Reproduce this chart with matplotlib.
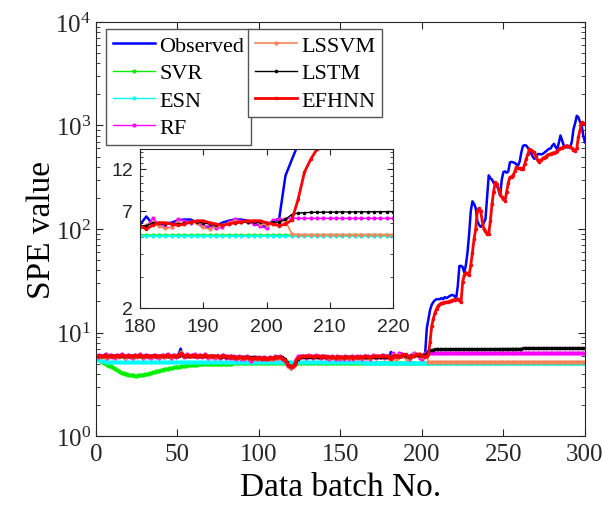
import matplotlib.pyplot as plt
import matplotlib.ticker as ticker
import numpy as np

plt.rcParams['font.family'] = ['Liberation Serif', 'DejaVu Serif']
plt.rcParams['mathtext.fontset'] = 'custom'
plt.rcParams['mathtext.rm'] = 'Liberation Serif'
plt.rcParams['axes.edgecolor'] = '#262626'
plt.rcParams['xtick.color'] = '#262626'
plt.rcParams['ytick.color'] = '#262626'

# data batch numbers
batch = np.arange(1, 301)

observed = [
    5.9, 6.1, 5.8, 6.0, 5.9, 6.2, 5.8, 5.9, 6.1, 5.9,
    6.0, 5.8, 6.1, 5.9, 6.0, 6.2, 5.9, 5.8, 6.0, 6.1,
    5.9, 6.0, 5.8, 6.1, 5.9, 6.0, 6.2, 5.9, 5.8, 6.0,
    6.1, 5.9, 6.0, 5.8, 6.0, 6.1, 5.9, 6.0, 5.8, 6.0,
    6.1, 5.9, 6.0, 6.2, 5.9, 5.8, 6.0, 6.1, 5.9, 6.0,
    6.3, 7.0, 6.1, 5.9, 6.0, 6.2, 6.0, 5.9, 6.1, 6.0,
    6.2, 5.9, 6.0, 6.1, 5.9, 6.0, 6.2, 5.9, 5.8, 6.0,
    5.9, 6.0, 5.8, 5.9, 6.0, 5.8, 5.9, 6.1, 5.9, 5.8,
    5.9, 5.8, 6.0, 5.8, 5.9, 5.7, 5.8, 5.9, 5.7, 5.8,
    5.7, 5.8, 5.9, 5.7, 5.8, 5.6, 5.8, 5.7, 5.6, 5.8,
    5.7, 5.6, 5.8, 5.7, 5.6, 5.7, 5.8, 5.6, 5.7, 5.9,
    5.8, 5.7, 5.9, 5.7, 5.6, 5.3, 5.0, 4.7, 4.5, 4.4,
    4.6, 5.0, 5.5, 5.8, 5.9, 5.8, 6.0, 5.9, 5.8, 6.0,
    5.9, 6.0, 5.8, 5.9, 6.0, 5.8, 5.9, 5.8, 6.0, 5.9,
    5.8, 5.9, 5.7, 5.8, 5.9, 5.8, 5.7, 5.9, 5.8, 5.7,
    5.8, 5.7, 5.9, 5.8, 5.7, 5.8, 5.9, 5.7, 5.8, 5.9,
    5.8, 5.9, 5.7, 5.8, 6.0, 5.8, 5.9, 5.7, 5.8, 6.0,
    5.9, 5.8, 6.0, 5.8, 5.9, 6.1, 5.8, 5.9, 6.0, 5.85,
    6.5, 5.9, 5.9, 5.95, 6.0, 6.2, 6.25, 6.25, 6.0, 5.65,
    5.65, 5.75, 6.0, 6.15, 6.25, 6.25, 6.15, 6.0, 5.75, 5.75,
    6.15, 6.3, 11.0, 13.5, 16.5, 18.5, 19.7, 20.5, 21.0, 21.0,
    21.0, 21.5, 21.0, 22.0, 21.5, 22.0, 22.5, 23.0, 23.0, 22.5,
    21.5, 28.0, 44.0, 44.0, 43.0, 38.0, 45.0, 60.0, 90.0, 150.0,
    185, 175, 160, 120, 110, 105, 108, 115, 125, 200,
    330, 310, 300, 280, 270, 262, 240, 210, 300, 355,
    360, 350, 360, 440, 445, 440, 435, 420, 410, 450,
    550, 635, 645, 640, 610, 575, 540, 500, 476, 490,
    530, 530, 525, 530, 545, 560, 580, 595, 600, 640,
    665, 620, 590, 680, 800, 720, 640, 625, 615, 615,
    615, 700, 925, 1050, 1240, 1200, 1080, 1000, 800, 690,
]

svr = [
    5.5, 5.4, 5.3, 5.2, 5.1, 5.0, 4.9, 4.8, 4.7, 4.6,
    4.5, 4.4, 4.3, 4.22, 4.15, 4.09, 4.04, 4.0, 3.96, 3.92,
    3.89, 3.86, 3.85, 3.84, 3.84, 3.85, 3.87, 3.89, 3.92, 3.95,
    3.98, 4.02, 4.05, 4.09, 4.13, 4.17, 4.21, 4.25, 4.29, 4.33,
    4.37, 4.41, 4.44, 4.48, 4.51, 4.54, 4.57, 4.6, 4.63, 4.66,
    4.69, 4.72, 4.74, 4.77, 4.79, 4.81, 4.83, 4.85, 4.87, 4.89,
    4.9, 4.91, 4.92, 4.93, 4.94, 4.95, 4.95, 4.96, 4.96, 4.97,
    4.97, 4.97, 4.98, 4.98, 4.98, 4.99, 4.99, 5.0, 5.0, 5.01,
    5.01, 5.02, 5.02, 5.03, 5.03, 5.04, 5.04, 5.05, 5.05, 5.06,
    5.06, 5.07, 5.07, 5.07, 5.07, 5.07, 5.07, 5.07, 5.07, 5.07,
] + [5.07] * 60 + [
    5.08, 5.08, 5.09, 5.09, 5.1, 5.1, 5.1, 5.11, 5.11, 5.11,
    5.11, 5.12, 5.12, 5.12, 5.12,
] + [5.12] * 125

esn = (
    [5.6, 5.45, 5.35, 5.3, 5.27, 5.25, 5.24, 5.23, 5.22, 5.22]
    + [5.22] * 150
    + [5.2, 5.18, 5.16, 5.14, 5.12, 5.1, 5.08, 5.07, 5.06, 5.05]
    + [5.04] * 130
)

rf = [
    5.8, 6.1, 5.9, 5.9, 6.0, 6.2, 5.7, 5.9, 6.1, 5.8,
    6.0, 5.7, 6.1, 5.9, 5.9, 6.2, 5.8, 5.7, 6.0, 6.1,
    5.8, 6.0, 5.7, 6.1, 5.9, 5.9, 6.2, 5.8, 5.7, 6.0,
    6.1, 5.8, 6.0, 5.7, 6.0, 6.1, 5.8, 6.0, 5.7, 5.9,
    6.1, 5.8, 6.0, 6.2, 5.9, 5.7, 6.0, 6.1, 5.8, 5.9,
    6.2, 6.4, 6.2, 5.8, 6.0, 6.2, 5.9, 5.9, 6.1, 5.9,
    6.2, 5.8, 6.0, 6.1, 5.8, 6.0, 6.2, 5.8, 5.7, 6.0,
    5.8, 6.0, 5.7, 5.9, 6.0, 5.7, 5.9, 6.1, 5.8, 5.7,
    5.9, 5.7, 6.0, 5.7, 5.9, 5.6, 5.8, 5.9, 5.6, 5.8,
    5.6, 5.8, 5.9, 5.6, 5.3, 5.6, 5.8, 5.6, 5.5, 5.8,
    5.6, 5.6, 5.8, 5.6, 5.5, 5.7, 5.8, 5.5, 5.7, 5.9,
    5.7, 5.7, 5.9, 5.6, 5.5, 5.3, 5.0, 4.8, 4.6, 4.6,
    4.8, 5.1, 5.6, 5.9, 6.0, 5.8, 6.0, 5.9, 5.7, 6.1,
    5.9, 6.0, 5.7, 5.9, 6.1, 5.8, 5.9, 5.7, 6.0, 5.9,
    5.7, 5.9, 5.6, 5.8, 5.9, 5.7, 5.6, 5.9, 5.8, 5.6,
    5.8, 5.6, 5.9, 5.8, 5.6, 5.8, 5.9, 5.6, 5.8, 5.9,
    5.7, 5.9, 5.6, 5.8, 6.0, 5.7, 5.9, 5.6, 5.8, 6.1,
    5.9, 5.7, 6.0, 5.8, 5.9, 6.1, 5.7, 5.9, 6.0, 5.65,
    5.72, 6.35, 5.9, 5.65, 5.65, 6.3, 6.15, 6.0, 6.05, 5.77,
    5.72, 5.57, 5.65, 6.02, 6.28, 6.15, 6.02, 5.9, 5.72, 5.57,
    6.2, 6.28, 6.28, 6.37,
] + [6.35] * 96

lssvm = [
    5.9, 6.0, 5.8, 6.0, 5.8, 6.1, 5.8, 5.8, 6.0, 5.9,
    5.9, 5.8, 6.0, 5.8, 6.0, 6.1, 5.9, 5.7, 5.9, 6.0,
    5.9, 5.9, 5.8, 6.0, 5.8, 6.0, 6.1, 5.8, 5.8, 5.9,
    6.0, 5.9, 5.9, 5.8, 5.9, 6.0, 5.9, 5.9, 5.8, 6.0,
    6.0, 5.8, 6.0, 6.1, 5.9, 5.8, 5.9, 6.0, 5.9, 5.9,
    6.1, 6.5, 6.1, 5.9, 5.9, 6.1, 6.0, 5.9, 6.0, 5.9,
    6.1, 5.9, 5.9, 6.0, 5.9, 5.9, 6.1, 5.9, 5.8, 5.9,
    5.9, 5.9, 5.8, 5.8, 5.9, 5.8, 5.8, 6.0, 5.9, 5.8,
    5.8, 5.8, 5.9, 5.8, 5.8, 5.7, 5.7, 5.8, 5.7, 5.7,
    5.7, 5.7, 5.8, 5.7, 5.7, 5.6, 5.7, 5.7, 5.6, 5.7,
    5.7, 5.6, 5.7, 5.7, 5.6, 5.6, 5.7, 5.6, 5.6, 5.8,
    5.8, 5.7, 5.8, 5.7, 5.6, 5.4, 5.1, 4.8, 4.6, 4.5,
    4.6, 4.9, 5.4, 5.7, 5.8, 5.8, 5.9, 5.9, 5.8, 5.9,
    5.9, 5.9, 5.8, 5.8, 5.9, 5.8, 5.8, 5.8, 5.9, 5.9,
    5.8, 5.8, 5.7, 5.7, 5.8, 5.8, 5.7, 5.8, 5.8, 5.7,
    5.7, 5.7, 5.8, 5.8, 5.7, 5.7, 5.8, 5.7, 5.7, 5.8,
    5.8, 5.8, 5.7, 5.7, 5.9, 5.8, 5.8, 5.7, 5.7, 5.9,
    5.9, 5.8, 5.9, 5.8, 5.8, 6.0, 5.8, 5.8, 5.9, 5.65,
    5.82, 6.02, 5.72, 5.57, 5.65, 6.02, 5.9, 6.08, 5.97, 5.65,
    5.53, 5.72, 5.82, 5.97, 6.15, 6.02, 6.08, 6.15, 5.9, 5.82,
    5.9, 6.02, 6.15, 5.18,
] + [5.15] * 96

lstm = [
    5.9, 5.95, 5.95, 5.95, 5.95, 6.0, 5.95, 5.9, 5.95, 5.95,
    5.95, 5.9, 5.95, 5.95, 5.95, 6.0, 5.95, 5.9, 5.9, 5.95,
    5.95, 5.95, 5.9, 5.95, 5.95, 5.95, 6.0, 5.95, 5.9, 5.9,
    5.95, 5.95, 5.95, 5.9, 5.95, 5.95, 5.95, 5.95, 5.9, 5.9,
    5.95, 5.95, 5.95, 6.0, 5.95, 5.9, 5.9, 5.95, 5.95, 5.95,
    6.0, 6.15, 6.1, 6.0, 5.95, 6.0, 6.0, 5.95, 6.0, 6.0,
    6.0, 5.95, 5.95, 6.0, 5.95, 5.95, 6.0, 5.95, 5.9, 5.9,
    5.9, 5.9, 5.9, 5.9, 5.9, 5.85, 5.85, 5.9, 5.9, 5.85,
    5.85, 5.85, 5.85, 5.85, 5.8, 5.8, 5.8, 5.8, 5.8, 5.8,
    5.75, 5.75, 5.8, 5.75, 5.75, 5.7, 5.75, 5.75, 5.7, 5.7,
    5.7, 5.7, 5.7, 5.7, 5.7, 5.7, 5.7, 5.7, 5.7, 5.75,
    5.75, 5.75, 5.75, 5.75, 5.7, 5.5, 5.2, 4.9, 4.75, 4.7,
    4.75, 4.95, 5.3, 5.6, 5.75, 5.8, 5.85, 5.85, 5.85, 5.85,
    5.85, 5.85, 5.85, 5.85, 5.85, 5.85, 5.85, 5.85, 5.85, 5.85,
    5.8, 5.8, 5.8, 5.8, 5.8, 5.8, 5.8, 5.8, 5.8, 5.8,
    5.8, 5.8, 5.8, 5.8, 5.8, 5.8, 5.8, 5.8, 5.8, 5.8,
    5.8, 5.8, 5.8, 5.8, 5.85, 5.85, 5.85, 5.8, 5.8, 5.85,
    5.85, 5.85, 5.85, 5.85, 5.85, 5.9, 5.85, 5.85, 5.85, 5.77,
    5.77, 5.97, 5.97, 5.9, 5.9, 5.9, 5.97, 6.02, 6.07, 5.97,
    5.9, 5.82, 5.82, 5.9, 5.97, 6.02, 6.07, 6.07, 6.02, 5.97,
    6.02, 6.07, 6.28, 6.66, 6.8, 6.83, 6.85, 6.86, 6.87, 6.88,
    6.88, 6.89, 6.89, 6.9, 6.9, 6.9, 6.91, 6.91, 6.92, 6.92,
    6.92, 6.93, 6.93, 6.93, 6.94, 6.94, 6.94, 6.95, 6.95, 6.95,
    6.95, 6.96, 6.96, 6.96, 6.96, 6.97, 6.97, 6.97, 6.97, 6.98,
    6.98, 6.98, 6.98, 6.98, 6.99, 6.99, 6.99, 6.99, 6.99, 7.0,
    7.0, 7.0, 7.0, 7.0, 7.0, 7.01, 7.01, 7.01, 7.01, 7.01,
    7.01, 7.02, 7.02, 7.02, 7.02, 7.02, 7.02, 7.03, 7.03, 7.03,
    7.03, 7.03, 7.03, 7.03, 7.04, 7.04, 7.04, 7.04, 7.04, 7.04,
    7.04, 7.05, 7.05, 7.05, 7.05, 7.05, 7.05, 7.05, 7.05, 7.06,
    7.06, 7.06, 7.06, 7.06, 7.06, 7.06, 7.07, 7.07, 7.07, 7.07,
]

efhnn = [
    5.9, 6.0, 5.9, 5.9, 6.0, 6.1, 5.9, 5.9, 6.0, 6.0,
    5.9, 5.9, 6.0, 6.0, 5.9, 6.1, 6.0, 5.9, 5.9, 6.0,
    6.0, 5.9, 5.9, 6.0, 6.0, 5.9, 6.1, 6.0, 5.9, 5.9,
    6.0, 6.0, 5.9, 5.9, 6.0, 6.0, 5.9, 5.9, 5.9, 6.0,
    6.0, 5.9, 6.0, 6.1, 5.9, 5.9, 6.0, 6.0, 5.9, 6.0,
    6.1, 6.3, 6.2, 6.0, 6.0, 6.1, 6.0, 6.0, 6.0, 6.1,
    6.0, 6.0, 6.0, 6.0, 6.0, 6.0, 6.1, 5.9, 5.9, 5.9,
    5.9, 5.9, 5.9, 5.9, 5.9, 5.8, 5.9, 6.0, 5.9, 5.9,
    5.8, 5.8, 5.9, 5.8, 5.8, 5.7, 5.8, 5.8, 5.8, 5.7,
    5.7, 5.8, 5.8, 5.7, 5.7, 5.6, 5.7, 5.7, 5.7, 5.7,
    5.7, 5.6, 5.7, 5.7, 5.6, 5.7, 5.7, 5.7, 5.7, 5.8,
    5.8, 5.8, 5.8, 5.7, 5.6, 5.4, 5.1, 4.9, 4.7, 4.6,
    4.7, 5.0, 5.4, 5.7, 5.8, 5.9, 5.9, 5.9, 5.9, 5.9,
    5.9, 5.9, 5.9, 5.8, 5.9, 5.9, 5.9, 5.8, 5.9, 5.9,
    5.8, 5.8, 5.8, 5.8, 5.8, 5.8, 5.7, 5.8, 5.8, 5.8,
    5.8, 5.7, 5.8, 5.8, 5.8, 5.8, 5.8, 5.7, 5.8, 5.8,
    5.8, 5.8, 5.8, 5.8, 5.9, 5.9, 5.8, 5.8, 5.8, 5.9,
    5.9, 5.9, 5.9, 5.9, 5.9, 6.0, 5.9, 5.9, 5.9, 5.75,
    5.53, 5.8, 6.0, 6.0, 5.9, 5.8, 5.9, 6.05, 6.15, 6.15,
    6.0, 5.9, 5.8, 5.9, 6.0, 6.05, 6.15, 6.15, 6.15, 6.0,
    5.9, 5.77, 5.9, 6.2, 8.1, 11.5, 13.6, 15.5, 17.0, 18.2,
    18.8, 19.2, 19.4, 19.6, 19.6, 19.8, 20.0, 20.3, 20.6, 20.8,
    21.0, 21.0, 20.5, 19.6, 30.7, 36.0, 38.0, 37.0, 36.0, 45.0,
    59, 80, 100, 150, 158, 150, 120, 100, 95, 89,
    90, 120, 174, 230, 282, 270, 245, 220, 203, 195,
    188, 230, 280, 316, 320, 330, 360, 395, 390, 385,
    380, 380, 420, 476, 530, 590, 580, 560, 550, 500,
    460, 440, 460, 480, 490, 500, 515, 525, 530, 540,
    545, 550, 570, 590, 600, 610, 615, 630, 640, 630,
    615, 600, 585, 570, 600, 770, 900, 1070, 1060, 1030,
]

series = [
    ('Observed', observed, dict(color='#0000FF', lw=1.8)),
    ('SVR', svr, dict(color='#00F000', lw=1.0, marker='o', ms=3, mew=0)),
    ('ESN', esn, dict(color='#00FFFF', lw=1.0, marker='o', ms=3, mew=0)),
    ('RF', rf, dict(color='#FF00FF', lw=1.0, marker='o', ms=3, mew=0)),
    ('LSSVM', lssvm, dict(color='#F4845A', lw=1.2, marker='o', ms=3, mew=0)),
    ('LSTM', lstm, dict(color='k', lw=1.0, marker='o', ms=2.6, mew=0)),
    ('EFHNN', efhnn, dict(color='#FF0000', lw=2.0, marker='o', ms=2.6, mew=0)),
]

fig = plt.figure(figsize=(6.03, 5.10), dpi=100)
ax = fig.add_axes([0.159, 0.143, 0.811, 0.812])

handles = []
for name, values, style in series:
    line, = ax.plot(batch, values, label=name, **style)
    handles.append(line)

ax.set_yscale('log')
ax.set_xlim(0, 300)
ax.set_ylim(1, 1e4)
ax.set_xticks(np.arange(0, 301, 50))
ax.yaxis.set_major_locator(ticker.LogLocator(base=10, numticks=10))
ax.yaxis.set_major_formatter(ticker.FuncFormatter(
    lambda v, _: r'$\mathrm{10^{%d}}$' % round(np.log10(v))))
ax.yaxis.set_minor_locator(ticker.LogLocator(base=10, subs=np.arange(2, 10), numticks=20))
ax.yaxis.set_minor_formatter(ticker.NullFormatter())
ax.tick_params(which='both', direction='in', top=True, right=True, labelsize=18)
ax.tick_params(which='major', length=5, width=0.8)
ax.tick_params(which='minor', length=3, width=0.6)
ax.tick_params(axis='x', pad=5)
for lab in ax.get_xticklabels() + ax.get_yticklabels():
    lab.set_family('Liberation Serif')
ax.set_xlabel('Data batch No.', fontsize=24, labelpad=5)
ax.set_ylabel('SPE value', fontsize=24, labelpad=-1)

leg_kw = dict(fontsize=16, handlelength=1.9, handletextpad=0.2, borderpad=0.3,
              labelspacing=0.3, fancybox=False, framealpha=1, edgecolor='#555555',
              numpoints=1, borderaxespad=0)
leg1 = ax.legend(handles=handles[:4], loc='upper left',
                 bbox_to_anchor=(106 / 603, 1 - 30 / 510),
                 bbox_transform=fig.transFigure, **leg_kw)
ax.add_artist(leg1)
leg2 = ax.legend(handles=handles[4:], loc='upper left',
                 bbox_to_anchor=(248 / 603, 1 - 30 / 510),
                 bbox_transform=fig.transFigure, **leg_kw)
leg1.get_frame().set_linewidth(1.0)
leg2.get_frame().set_linewidth(1.0)

# zoomed inset around the fault onset
axin = fig.add_axes([140 / 603, 1 - 309 / 510, 253 / 603, 159 / 510])
for name, values, style in series:
    axin.plot(batch, values, **style)
axin.set_yscale('log')
axin.set_xlim(180, 220)
axin.set_ylim(2, 15.5)
axin.set_xticks(np.arange(180, 221, 10))
axin.yaxis.set_major_locator(ticker.FixedLocator([2, 7, 12]))
axin.yaxis.set_major_formatter(ticker.FormatStrFormatter('%g'))
axin.yaxis.set_minor_locator(ticker.FixedLocator([3, 4, 5, 6, 8, 9, 10, 11, 13, 14, 15]))
axin.yaxis.set_minor_formatter(ticker.NullFormatter())
axin.tick_params(which='both', direction='in', top=True, right=True)
axin.tick_params(which='major', length=4, width=0.8)
axin.tick_params(which='minor', length=2.5, width=0.6)
axin.tick_params(axis='x', pad=7)
axin.tick_params(axis='y', pad=5)
for lab in axin.get_xticklabels() + axin.get_yticklabels():
    lab.set_family('Liberation Sans')
    lab.set_fontsize(14)

fig.savefig('out.png', dpi=100)
